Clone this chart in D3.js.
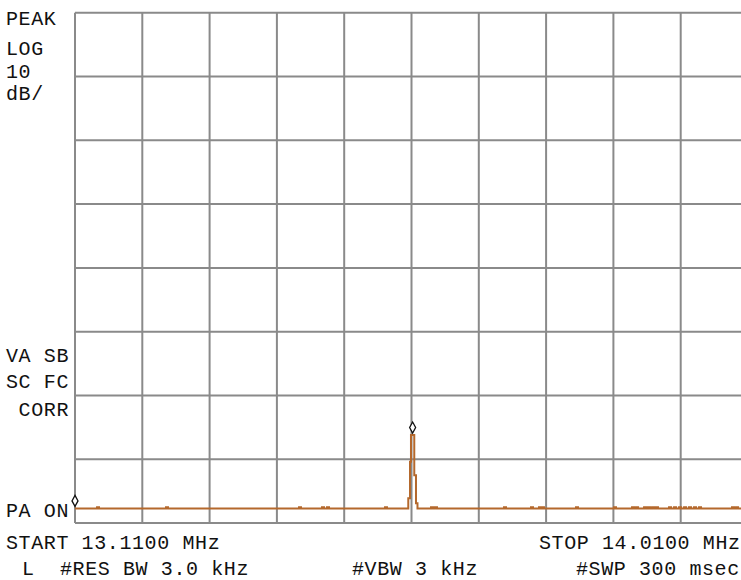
<!DOCTYPE html>
<html>
<head>
<meta charset="utf-8">
<script src="https://cdn.jsdelivr.net/npm/d3@7"></script>
<style>
  html, body { margin: 0; padding: 0; background: #fff; }
  svg { display: block; }
  text { font-family: "Liberation Mono", "DejaVu Sans Mono", monospace; font-size: 20px; letter-spacing: 0.6px; fill: #111; }
</style>
</head>
<body>
<svg id="chart" width="741" height="580"></svg>
<script>
// Sweep settings
const startMHz = 13.11;
const stopMHz = 14.01;
const refLevelDb = 0;
const dbPerDiv = 10;
const hDivs = 10;
const vDivs = 8;

// Trace breakpoints (held until the next frequency)
const traceFreqMHz = [
  13.1100, 13.1395, 13.1421, 13.2317, 13.2344, 13.4096, 13.4122, 13.4403, 13.4430, 13.4470,
  13.4497, 13.5246, 13.5272, 13.5557, 13.5580, 13.5593, 13.5637, 13.5660, 13.5680, 13.5861,
  13.5888, 13.5914, 13.5941, 13.6837, 13.6864, 13.7198, 13.7225, 13.7305, 13.7332, 13.7346,
  13.7372, 13.7800, 13.7827, 13.8308, 13.8335, 13.8549, 13.8576, 13.8603, 13.8630, 13.8710,
  13.8737, 13.8763, 13.8790, 13.8817, 13.8844, 13.8870, 13.8897, 13.9044, 13.9071, 13.9111,
  13.9138, 13.9178, 13.9205, 13.9245, 13.9272, 13.9311, 13.9338, 13.9378, 13.9405, 13.9445,
  13.9472, 13.9886, 13.9913, 13.9940, 13.9967, 14.0100
];
const traceLevelDb = [
  -77.7, -77.5, -77.7, -77.5, -77.7, -77.5, -77.7, -77.5, -77.7, -77.5,
  -77.7, -77.5, -77.7, -76.1, -70.4, -66.2, -72.5, -76.9, -77.7, -77.5,
  -77.7, -77.5, -77.7, -77.5, -77.7, -77.5, -77.7, -77.5, -77.7, -77.5,
  -77.7, -77.5, -77.7, -77.5, -77.7, -77.5, -77.7, -77.5, -77.7, -77.5,
  -77.7, -77.5, -77.7, -77.5, -77.7, -77.5, -77.7, -77.5, -77.7, -77.5,
  -77.7, -77.5, -77.7, -77.5, -77.7, -77.5, -77.7, -77.5, -77.7, -77.5,
  -77.7, -77.5, -77.7, -77.5, -77.7, -77.7
];

// Markers: start-of-sweep marker and the peak marker
const markerFreqMHz = [13.1100, 13.5615];
const markerLevelDb = [-77.7, -66.2];

// Annotation texts
const leftLabels = ["PEAK", "LOG", "10", "dB/"];
const leftLabelBaselines = [25, 55, 78, 100];
const statusLabels = ["VA SB", "SC FC", " CORR", "PA ON"];
const statusBaselines = [362, 388, 416, 517];
const footerTexts = ["START 13.1100 MHz", "STOP 14.0100 MHz", "L", "#RES BW 3.0 kHz", "#VBW 3 kHz", "#SWP 300 msec"];
const footerX = [6, 539, 22, 60, 352, 576];
const footerY = [549, 549, 575, 575, 575, 575];

const svg = d3.select("#chart");

const gridLeft = 75, gridTop = 12.7, divW = 67.3, divH = 63.8;

const x = d3.scaleLinear()
  .domain([startMHz, stopMHz])
  .range([gridLeft, gridLeft + hDivs * divW]);
const y = d3.scaleLinear()
  .domain([refLevelDb - vDivs * dbPerDiv, refLevelDb])
  .range([gridTop + vDivs * divH, gridTop]);

// Graticule
const grid = svg.append("g").attr("stroke", "#8a8a8a").attr("stroke-width", 2);
const fStep = (stopMHz - startMHz) / hDivs;
grid.selectAll("line.v").data(d3.range(hDivs + 1)).join("line")
  .attr("class", "v")
  .attr("x1", i => x(startMHz + i * fStep)).attr("x2", i => x(startMHz + i * fStep))
  .attr("y1", y.range()[0]).attr("y2", y.range()[1]);
grid.selectAll("line.h").data(d3.range(vDivs + 1)).join("line")
  .attr("class", "h")
  .attr("y1", i => y(refLevelDb - i * dbPerDiv)).attr("y2", i => y(refLevelDb - i * dbPerDiv))
  .attr("x1", x.range()[0]).attr("x2", x.range()[1]);

// Trace
const trace = traceFreqMHz.map((f, i) => [f, traceLevelDb[i]]);
svg.append("path")
  .datum(trace)
  .attr("fill", "none")
  .attr("stroke", "#b4682c")
  .attr("stroke-width", 2)
  .attr("d", d3.line().x(d => x(d[0])).y(d => y(d[1])).curve(d3.curveStepAfter));

// Marker diamonds sitting just above the trace
svg.append("g").selectAll("path").data(markerFreqMHz).join("path")
  .attr("transform", (f, i) => `translate(${x(f)},${y(markerLevelDb[i]) - 7.5})`)
  .attr("d", "M0,-5.5L3,0L0,5.5L-3,0Z")
  .attr("fill", "#fff")
  .attr("stroke", "#111")
  .attr("stroke-width", 1.3);

// Left-hand annotations
svg.append("g").selectAll("text").data(leftLabels).join("text")
  .attr("x", 6).attr("y", (d, i) => leftLabelBaselines[i])
  .text(d => d);
svg.append("g").selectAll("text").data(statusLabels).join("text")
  .attr("x", 6).attr("y", (d, i) => statusBaselines[i])
  .style("white-space", "pre")
  .text(d => d);

// Footer lines
svg.append("g").selectAll("text").data(footerTexts).join("text")
  .attr("x", (d, i) => footerX[i]).attr("y", (d, i) => footerY[i])
  .style("white-space", "pre")
  .text(d => d);
</script>
</body>
</html>
